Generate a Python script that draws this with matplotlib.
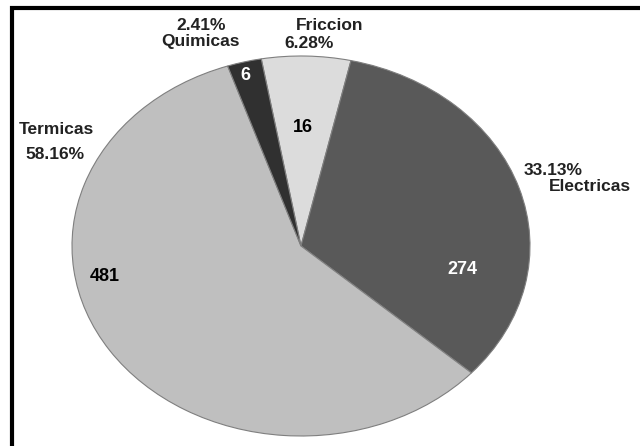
import matplotlib
matplotlib.use("Agg")
import matplotlib.pyplot as plt
from matplotlib.patches import Rectangle

# data
categories = ["Friccion", "Electricas", "Termicas", "Quimicas"]
counts = [16, 274, 481, 6]
percents = [6.28, 33.13, 58.16, 2.41]

colors = ["#dcdcdc", "#595959", "#bfbfbf", "#303030"]
count_colors = ["black", "white", "black", "white"]

plt.rcParams["font.family"] = ["Liberation Sans", "DejaVu Sans"]
plt.rcParams["font.weight"] = "bold"

fig = plt.figure(figsize=(6.4, 4.46), dpi=100)
ax = fig.add_axes([72 / 640, 10 / 446, 458 / 640, 380 / 446])

wedges, _ = ax.pie(percents, colors=colors, startangle=100, counterclock=False,
                   wedgeprops=dict(edgecolor="#7f7f7f", linewidth=0.8))
ax.set_aspect("auto")
ax.set_xlim(-1, 1)
ax.set_ylim(-1, 1)

# count labels inside the slices
count_pos = [(0.009, 0.626), (0.703, -0.126), (-0.856, -0.163), (-0.245, 0.895)]
for n, (x, y), c in zip(counts, count_pos, count_colors):
    ax.text(x, y, str(n), ha="center", va="center", fontsize=13, color=c)

# outer labels: (text, x, y)
outer = [
    ("Friccion", 0.127, 1.158), ("6.28%", 0.035, 1.068),
    ("33.13%", 1.100, 0.395), ("Electricas", 1.260, 0.311),
    ("Termicas", -1.070, 0.611), ("58.16%", -1.074, 0.484),
    ("2.41%", -0.434, 1.163), ("Quimicas", -0.441, 1.074),
]
for t, x, y in outer:
    ax.text(x, y, t, ha="center", va="center", fontsize=12.5, color="#222222")

# black frame running off the right and bottom edges
fig.add_artist(Rectangle((12 / 640, -0.1), 1.2, (446 - 8) / 446 + 0.1,
                         transform=fig.transFigure, fill=False,
                         edgecolor="black", linewidth=3, zorder=10))

fig.savefig("out.png", dpi=100)
